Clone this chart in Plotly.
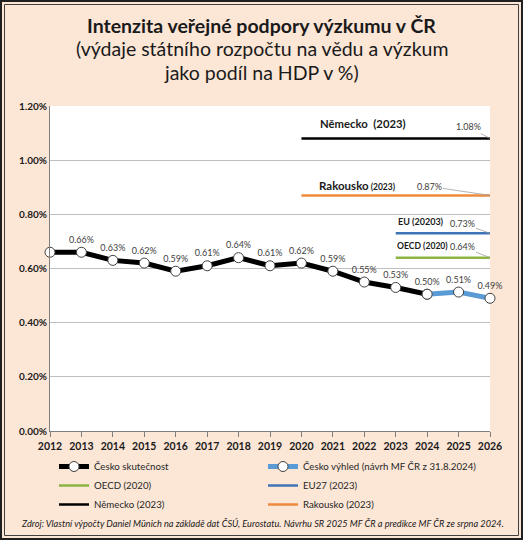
import plotly.graph_objects as go

# ---- data ----
years_actual = [2012, 2013, 2014, 2015, 2016, 2017, 2018, 2019, 2020, 2021, 2022, 2023, 2024]
values_actual = [0.66, 0.66, 0.63, 0.62, 0.59, 0.61, 0.64, 0.61, 0.62, 0.59, 0.55, 0.53, 0.505]
labels_actual = ["", "0.66%", "0.63%", "0.62%", "0.59%", "0.61%", "0.64%", "0.61%", "0.62%", "0.59%", "0.55%", "0.53%", "0.50%"]

years_outlook = [2024, 2025, 2026]
values_outlook = [0.505, 0.513, 0.49]
labels_outlook = ["", "0.51%", "0.49%"]

ref_names = ["OECD (2020)", "EU27 (2023)", "Německo (2023)", "Rakousko (2023)"]
ref_values = [0.64, 0.73, 1.08, 0.87]
ref_start = [2023, 2023, 2020, 2020]
ref_end = [2026, 2026, 2026, 2026]
ref_colors = ["#8DB443", "#3E73B6", "#000000", "#EE8A3C"]
ref_value_labels = ["0.64%", "0.73%", "1.08%", "0.87%"]
ref_inline_labels = ["<b>OECD (2020)</b>", "<b>EU (20203)</b>", "<b>Německo  (2023)</b>",
                     "<b>Rakousko</b><b><span style='font-size:8.5px'> (2023)</span></b>"]

y_ticks = [0.0, 0.2, 0.4, 0.6, 0.8, 1.0, 1.2]
x_ticks = list(range(2012, 2027))

# ---- layout geometry (pixels) ----
W, H = 523, 540
L, R, T, B = 50, 490, 106, 431
def px(x):
    return (x - L) / (R - L)
def py(y):
    return (B - y) / (B - T)

FONT = "Lato"
BG = "#FCE6D6"

fig = go.Figure()

fig.add_trace(go.Scatter(
    x=years_actual, y=values_actual, mode="lines+markers+text",
    name="Česko skutečnost",
    line=dict(color="black", width=5),
    marker=dict(size=10, color="white", line=dict(color="#404040", width=1)),
    text=labels_actual, textposition="top center",
    textfont=dict(family=FONT, size=9, color="#404040"),
    cliponaxis=False, legend="legend", legendrank=1,
))
fig.add_trace(go.Scatter(
    x=years_outlook, y=values_outlook, mode="lines+markers+text",
    name="Česko výhled (návrh MF ČR z 31.8.2024)",
    line=dict(color="#5B9BD5", width=5),
    marker=dict(size=10, color="white", line=dict(color="#404040", width=1)),
    text=labels_outlook, textposition="top center",
    textfont=dict(family=FONT, size=9, color="#404040"),
    cliponaxis=False, legend="legend2", legendrank=1,
))
legend_ids = ["legend", "legend2", "legend", "legend2"]
ranks = [2, 2, 3, 3]
for n, v, s, e, c, lg, rk in zip(ref_names, ref_values, ref_start, ref_end, ref_colors, legend_ids, ranks):
    fig.add_trace(go.Scatter(
        x=[s, e], y=[v, v], mode="lines", name=n,
        line=dict(color=c, width=2.5), cliponaxis=False, legend=lg, legendrank=rk,
    ))

annotations = []
# leader labels of reference values
offsets = [(-28, -11), (-28, -10), (-22, -12), (-61, -9)]
for v, lab, (ax, ay) in zip(ref_values, ref_value_labels, offsets):
    annotations.append(dict(
        x=2026, y=v, xref="x", yref="y", text=lab, showarrow=True,
        arrowhead=0, arrowwidth=0.8, arrowcolor="#A0A0A0", ax=ax, ay=ay,
        font=dict(family=FONT, size=9, color="#404040"), standoff=0,
    ))
# inline labels
inline_pos = [(2023.84, 0.683, 8.6), (2023.8, 0.775, 9), (2021.96, 1.134, 11.3), (2021.77, 0.908, 11.5)]
for lab, (x, y, sz) in zip(ref_inline_labels, inline_pos):
    annotations.append(dict(
        x=x, y=y, xref="x", yref="y", text=lab, showarrow=False,
        font=dict(family=FONT, size=sz, color="#1A1A1A"),
    ))
# titles
cx = px(W / 2)
annotations += [
    dict(x=cx, y=py(25), xref="paper", yref="paper", text="<b>Intenzita veřejné podpory výzkumu v ČR</b>",
         showarrow=False, font=dict(family=FONT, size=19.5, color="#1A1A1A"), yanchor="middle"),
    dict(x=cx, y=py(49), xref="paper", yref="paper", text="(výdaje státního rozpočtu na vědu a výzkum",
         showarrow=False, font=dict(family=FONT, size=19.5, color="#1A1A1A"), yanchor="middle"),
    dict(x=cx, y=py(73), xref="paper", yref="paper", text="jako podíl na HDP v %)",
         showarrow=False, font=dict(family=FONT, size=19.5, color="#1A1A1A"), yanchor="middle"),
    dict(x=px(262), y=py(523), xref="paper", yref="paper",
         text="<i>Zdroj: Vlastní výpočty Daniel Münich na základě dat ČSÚ, Eurostatu. Návrhu SR 2025 MF ČR a predikce MF ČR ze srpna 2024.</i>",
         showarrow=False, font=dict(family=FONT, size=9.2, color="#1A1A1A"), yanchor="middle"),
]

shapes = [
    dict(type="rect", xref="paper", yref="paper", x0=px(1), x1=px(522), y0=py(539), y1=py(1),
         line=dict(color="#202020", width=2), layer="below"),
    dict(type="rect", xref="paper", yref="paper", x0=px(4.5), x1=px(518.5), y0=py(535.5), y1=py(4.5),
         line=dict(color="#404040", width=1), layer="below"),
]

leg_common = dict(orientation="v", xanchor="left", yanchor="top",
                  font=dict(family=FONT, size=9.7, color="#262626"),
                  bgcolor="rgba(0,0,0,0)", tracegroupgap=0, traceorder="normal")

fig.update_layout(
    width=W, height=H,
    margin=dict(l=L, r=W - R, t=T, b=H - B),
    paper_bgcolor=BG, plot_bgcolor="white",
    font=dict(family=FONT, color="#1A1A1A"),
    showlegend=True,
    legend=dict(x=px(54), y=py(452), **leg_common),
    legend2=dict(x=px(263), y=py(452), **leg_common),
    annotations=annotations, shapes=shapes,
)
fig.update_xaxes(range=[2012, 2026], tickvals=x_ticks, ticktext=[str(y) for y in x_ticks],
                 showgrid=False, showline=True, linecolor="#7F7F7F", linewidth=1,
                 ticks="outside", ticklen=5, tickcolor="#7F7F7F",
                 tickfont=dict(family=FONT, size=10.5, color="#1A1A1A", weight="bold"), zeroline=False)
fig.update_yaxes(range=[0, 1.2], tickvals=y_ticks, ticktext=[f"{v:.2f}%" for v in y_ticks],
                 showgrid=True, gridcolor="#BFBFBF", gridwidth=1,
                 showline=True, linecolor="#7F7F7F", linewidth=1, zeroline=False,
                 tickfont=dict(family=FONT, size=10, color="#1A1A1A", weight="bold"))

fig.write_html("out.html", config={"displayModeBar": False},
               post_script="document.body.style.margin='0';document.body.style.overflow='hidden';")
